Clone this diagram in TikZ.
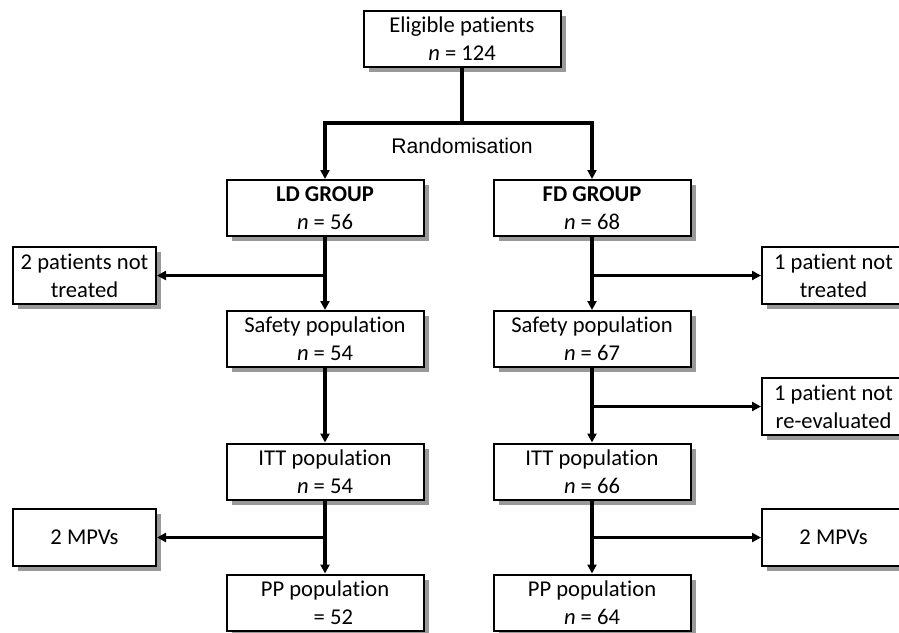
\documentclass[tikz,border=0pt]{standalone}
\usepackage{fontspec}
\setmainfont{Carlito}[Ligatures=NoCommon]
\newfontfamily\arialfont{Liberation Sans}
\usepackage{tikz}
\usetikzlibrary{arrows.meta, positioning, shadows}

\begin{document}
\begin{tikzpicture}[x=0.5pt, y=-0.5pt,
	box/.style={draw, line width=1pt, fill=white, align=center, inner sep=0.5pt,
		minimum width=98.5pt, minimum height=28pt,
		font=\fontsize{11.3}{14}\selectfont,
		drop shadow={shadow xshift=2.5pt, shadow yshift=-2.5pt, fill=black!40, opacity=1}},
	sidebox/.style={box, minimum width=71.5pt, minimum height=28.5pt},
	line/.style={line width=1.8pt},
	arr/.style={line, -{Triangle[length=4.5pt, width=4.5pt]}}]
			\useasboundingbox (0,0) rectangle (899,632);
			\clip (0,0) rectangle (899,632);
			
			% 顶部
			\node[box] (elig) at (462,38.5) {Eligible patients\\ \textit{n} = 124};
			\coordinate (rnd) at (462,123);
			\node[font=\arialfont\fontsize{10.6}{12}\selectfont] (rndlab) at (462,146) {Randomisation};
			
			% 两组
			\node[box] (ld) at (325,208) {\textbf{LD GROUP}\\ \textit{n} = 56};
			\node[box] (fd) at (592,208) {\textbf{FD GROUP}\\ \textit{n} = 68};
			
			\node[box] (ldsafe) at (325,339) {Safety population\\ \textit{n} = 54};
			\node[box] (fdsafe) at (592,339) {Safety population\\ \textit{n} = 67};
			
			\node[box] (lditt) at (325,471.5) {ITT population\\ \textit{n} = 54};
			\node[box] (fditt) at (592,471.5) {ITT population\\ \textit{n} = 66};
			
			\node[box] (ldpp) at (325,602.5) {PP population\\ \phantom{\textit{n}} = 52};
			\node[box] (fdpp) at (592,602.5) {PP population\\ \textit{n} = 64};
			
			% 旁边的框
			\node[sidebox] (ldnt) at (84.5,275.5) {2 patients not\\ treated};
			\node[sidebox] (fdnt) at (833.5,275.5) {1 patient not\\ treated};
			\node[sidebox] (fdre) at (833.5,406.5) {1 patient not\\ re-evaluated};
			\node[sidebox] (ldmpv) at (84.5,537.5) {2 MPVs};
			\node[sidebox] (fdmpv) at (833.5,537.5) {2 MPVs};
			
			% 连线
			\draw[line] (elig) -- (rnd);
			\draw[arr] (rnd) -| (ld);
			\draw[arr] (rnd) -| (fd);
			
			\draw[arr] (ld) -- (ldsafe);
			\draw[arr] (ld |- ldnt) -- (ldnt);
			\draw[arr] (ldsafe) -- (lditt);
			\draw[arr] (lditt) -- (ldpp);
			\draw[arr] (lditt |- ldmpv) -- (ldmpv);
			
			\draw[arr] (fd) -- (fdsafe);
			\draw[arr] (fd |- fdnt) -- (fdnt);
			\draw[arr] (fdsafe) -- (fditt);
			\draw[arr] (fdsafe |- fdre) -- (fdre);
			\draw[arr] (fditt) -- (fdpp);
			\draw[arr] (fditt |- fdmpv) -- (fdmpv);
		\end{tikzpicture}
\end{document}
